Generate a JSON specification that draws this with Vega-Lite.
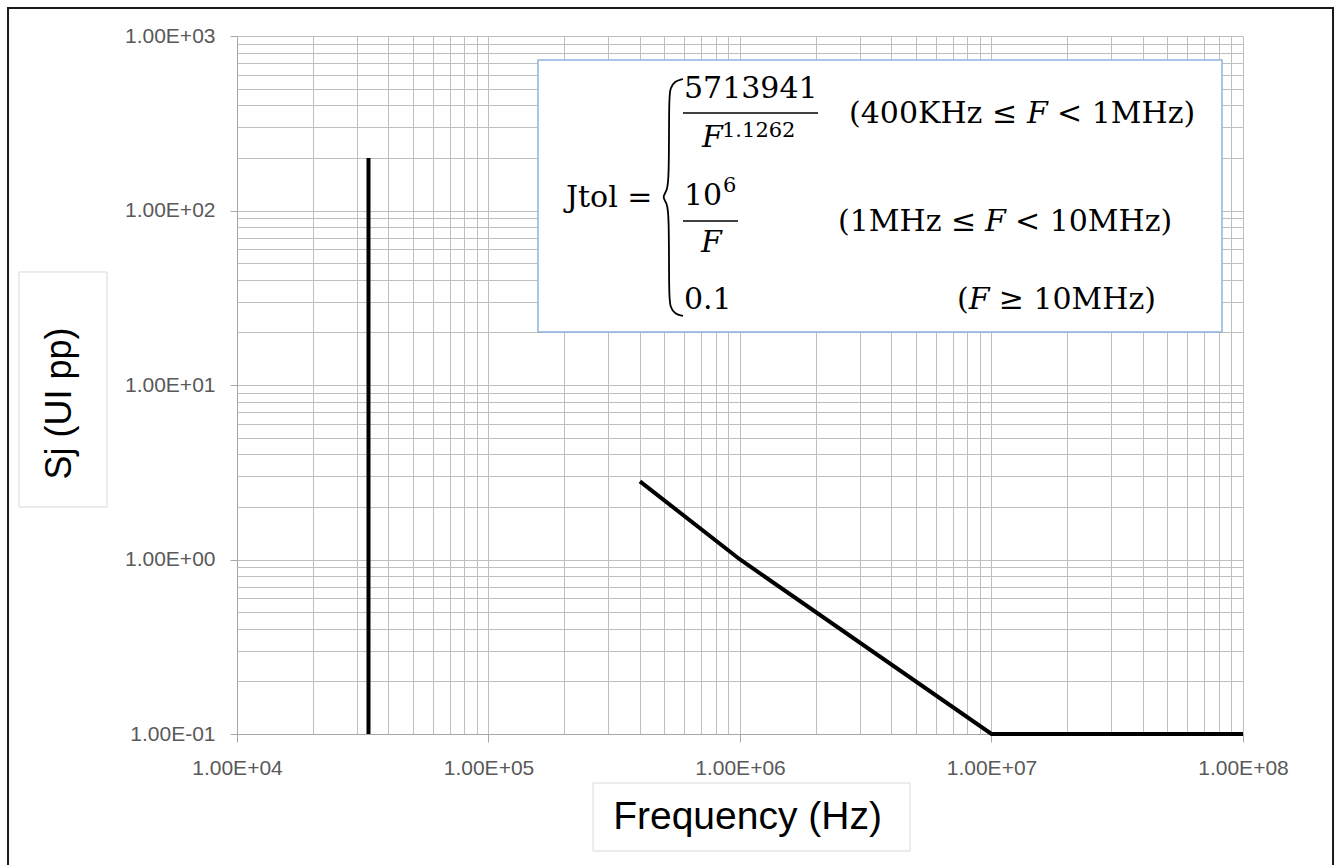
{
  "$schema": "https://vega.github.io/schema/vega-lite/v6.json",
  "width": 1006,
  "height": 698,
  "autosize": {"type": "none"},
  "padding": {"left": 237, "top": 36, "right": 92, "bottom": 131},
  "background": "white",
  "config": {"view": {"stroke": null}},
  "datasets": {
    "jtol": [
      {"x": 400000, "y": 2.805},
      {"x": 1000000, "y": 1},
      {"x": 10000000, "y": 0.1},
      {"x": 100000000, "y": 0.1}
    ],
    "vline": [{"x": 33333, "y": 0.1, "y2": 200}],
    "frame": [{"x": 1229, "x2": 228000000, "y": 1447, "y2": 0.01456}],
    "titleboxes": [
      {"x": 1359, "x2": 3042, "y": 44.43, "y2": 2.0},
      {"x": 260400, "x2": 4742000, "y": 0.05238, "y2": 0.02136}
    ],
    "eqbox": [{"x": 157300, "x2": 82500000, "y": 728.6, "y2": 20.12}],
    "bars": [
      {"x": 593400, "x2": 2043000, "y": 362.1},
      {"x": 593400, "x2": 981900, "y": 87.03}
    ],
    "brace": [
      {"i": 1, "x": 593400, "y": 567.0},
      {"i": 2, "x": 551500, "y": 552.2},
      {"i": 3, "x": 526800, "y": 503.5},
      {"i": 4, "x": 522000, "y": 429.8},
      {"i": 5, "x": 522000, "y": 149.5},
      {"i": 6, "x": 512500, "y": 129.3},
      {"i": 7, "x": 489600, "y": 119.5},
      {"i": 8, "x": 512500, "y": 110.4},
      {"i": 9, "x": 522000, "y": 95.5},
      {"i": 10, "x": 522000, "y": 32.79},
      {"i": 11, "x": 526800, "y": 27.99},
      {"i": 12, "x": 551500, "y": 25.52},
      {"i": 13, "x": 593400, "y": 24.86}
    ],
    "texts": [
      {"x": 598800, "y": 441.2, "t": "5713941"},
      {"x": 2713000, "y": 317.2, "t": "(400KHz ≤"},
      {"x": 18217000, "y": 317.2, "t": "< 1MHz)"},
      {"x": 203300, "y": 104.7, "t": "Jtol ="},
      {"x": 598800, "y": 107.5, "t": "10"},
      {"x": 2453000, "y": 76.27, "t": "(1MHz ≤"},
      {"x": 12400000, "y": 76.27, "t": "< 10MHz)"},
      {"x": 598800, "y": 27.27, "t": "0.1"},
      {"x": 7293000, "y": 27.27, "t": "("},
      {"x": 10682000, "y": 27.27, "t": "≥ 10MHz)"}
    ],
    "italics": [
      {"x": 706300, "y": 231.1, "t": "F"},
      {"x": 699900, "y": 57.83, "t": "F"},
      {"x": 13838000, "y": 317.2, "t": "F"},
      {"x": 9423000, "y": 76.27, "t": "F"},
      {"x": 8119000, "y": 27.27, "t": "F"}
    ],
    "sups": [
      {"x": 848000, "y": 263.8, "t": "1.1262"},
      {"x": 855800, "y": 127.6, "t": "6"}
    ]
  },
  "layer": [
    {
      "data": {"name": "jtol"},
      "mark": {"type": "line", "color": "black", "strokeWidth": 4},
      "encoding": {
        "x": {
          "field": "x", "type": "quantitative",
          "scale": {"type": "log", "domain": [10000, 100000000], "nice": false},
          "axis": {
            "title": "Frequency (Hz)",
            "values": [10000,20000,30000,40000,50000,60000,70000,80000,90000,100000,200000,300000,400000,500000,600000,700000,800000,900000,1000000,2000000,3000000,4000000,5000000,6000000,7000000,8000000,9000000,10000000,20000000,30000000,40000000,50000000,60000000,70000000,80000000,90000000,100000000],
            "grid": true, "gridColor": "#bfbfbf", "gridWidth": 1,
            "domainColor": "#a6a6a6", "tickColor": "#a6a6a6", "tickSize": 8,
            "tickOpacity": {"condition": {"test": "abs(log(datum.value)/LN10 - round(log(datum.value)/LN10)) < 0.000001", "value": 1}, "value": 0},
            "labelExpr": "abs(log(datum.value)/LN10 - round(log(datum.value)/LN10)) < 0.000001 ? '1.00E' + (round(log(datum.value)/LN10) < 0 ? '-' : '+') + '0' + abs(round(log(datum.value)/LN10)) : ''",
            "labelOverlap": false, "labelBound": false, "labelFlush": false,
            "labelPadding": 15, "labelFont": "Liberation Sans", "labelFontSize": 21, "labelColor": "#595959",
            "titleFont": "Liberation Sans", "titleFontSize": 39, "titleFontWeight": "normal", "titleColor": "black",
            "titleX": 510, "titleY": 94, "titleBaseline": "alphabetic", "titleAlign": "center"
          }
        },
        "y": {
          "field": "y", "type": "quantitative",
          "scale": {"type": "log", "domain": [0.1, 1000], "nice": false},
          "axis": {
            "title": "Sj (UI pp)",
            "values": [0.1,0.2,0.3,0.4,0.5,0.6,0.7,0.8,0.9,1,2,3,4,5,6,7,8,9,10,20,30,40,50,60,70,80,90,100,200,300,400,500,600,700,800,900,1000],
            "grid": true, "gridColor": "#bfbfbf", "gridWidth": 1,
            "domainColor": "#a6a6a6", "tickColor": "#a6a6a6", "tickSize": 7,
            "tickOpacity": {"condition": {"test": "abs(log(datum.value)/LN10 - round(log(datum.value)/LN10)) < 0.000001", "value": 1}, "value": 0},
            "labelExpr": "abs(log(datum.value)/LN10 - round(log(datum.value)/LN10)) < 0.000001 ? '1.00E' + (round(log(datum.value)/LN10) < 0 ? '-' : '+') + '0' + abs(round(log(datum.value)/LN10)) : ''",
            "labelOverlap": false, "labelBound": false, "labelFlush": false,
            "labelPadding": 15, "labelFont": "Liberation Sans", "labelFontSize": 21, "labelColor": "#595959",
            "titleFont": "Liberation Sans", "titleFontSize": 36, "titleFontWeight": "normal", "titleColor": "black",
            "titleX": -167, "titleY": 367, "titleBaseline": "alphabetic", "titleAlign": "center", "titleAngle": -90
          }
        }
      }
    },
    {
      "data": {"name": "vline"},
      "mark": {"type": "rule", "color": "black", "strokeWidth": 4},
      "encoding": {
        "x": {"field": "x", "type": "quantitative", "scale": {"type": "log", "domain": [10000, 100000000], "nice": false}},
        "y": {"field": "y", "type": "quantitative", "scale": {"type": "log", "domain": [0.1, 1000], "nice": false}},
        "y2": {"field": "y2"}
      }
    },
    {
      "data": {"name": "frame"},
      "mark": {"type": "rect", "fillOpacity": 0, "stroke": "#1a1a1a", "strokeWidth": 2},
      "encoding": {
        "x": {"field": "x", "type": "quantitative", "scale": {"type": "log", "domain": [10000, 100000000], "nice": false}},
        "x2": {"field": "x2"},
        "y": {"field": "y", "type": "quantitative", "scale": {"type": "log", "domain": [0.1, 1000], "nice": false}},
        "y2": {"field": "y2"}
      }
    },
    {
      "data": {"name": "titleboxes"},
      "mark": {"type": "rect", "fillOpacity": 0, "stroke": "#d9d9d9", "strokeWidth": 1},
      "encoding": {
        "x": {"field": "x", "type": "quantitative", "scale": {"type": "log", "domain": [10000, 100000000], "nice": false}},
        "x2": {"field": "x2"},
        "y": {"field": "y", "type": "quantitative", "scale": {"type": "log", "domain": [0.1, 1000], "nice": false}},
        "y2": {"field": "y2"}
      }
    },
    {
      "data": {"name": "eqbox"},
      "mark": {"type": "rect", "fill": "white", "stroke": "#8eb3df", "strokeWidth": 1.5},
      "encoding": {
        "x": {"field": "x", "type": "quantitative", "scale": {"type": "log", "domain": [10000, 100000000], "nice": false}},
        "x2": {"field": "x2"},
        "y": {"field": "y", "type": "quantitative", "scale": {"type": "log", "domain": [0.1, 1000], "nice": false}},
        "y2": {"field": "y2"}
      }
    },
    {
      "data": {"name": "bars"},
      "mark": {"type": "rule", "color": "black", "strokeWidth": 1.5},
      "encoding": {
        "x": {"field": "x", "type": "quantitative", "scale": {"type": "log", "domain": [10000, 100000000], "nice": false}},
        "x2": {"field": "x2"},
        "y": {"field": "y", "type": "quantitative", "scale": {"type": "log", "domain": [0.1, 1000], "nice": false}}
      }
    },
    {
      "data": {"name": "brace"},
      "mark": {"type": "line", "color": "black", "strokeWidth": 1.8, "interpolate": "basis"},
      "encoding": {
        "x": {"field": "x", "type": "quantitative", "scale": {"type": "log", "domain": [10000, 100000000], "nice": false}},
        "y": {"field": "y", "type": "quantitative", "scale": {"type": "log", "domain": [0.1, 1000], "nice": false}},
        "order": {"field": "i", "type": "quantitative"}
      }
    },
    {
      "data": {"name": "texts"},
      "mark": {"type": "text", "align": "left", "baseline": "alphabetic", "font": "DejaVu Serif", "fontSize": 30, "color": "black"},
      "encoding": {
        "x": {"field": "x", "type": "quantitative", "scale": {"type": "log", "domain": [10000, 100000000], "nice": false}},
        "y": {"field": "y", "type": "quantitative", "scale": {"type": "log", "domain": [0.1, 1000], "nice": false}},
        "text": {"field": "t"}
      }
    },
    {
      "data": {"name": "italics"},
      "mark": {"type": "text", "align": "left", "baseline": "alphabetic", "font": "DejaVu Serif", "fontStyle": "italic", "fontSize": 30, "color": "black"},
      "encoding": {
        "x": {"field": "x", "type": "quantitative", "scale": {"type": "log", "domain": [10000, 100000000], "nice": false}},
        "y": {"field": "y", "type": "quantitative", "scale": {"type": "log", "domain": [0.1, 1000], "nice": false}},
        "text": {"field": "t"}
      }
    },
    {
      "data": {"name": "sups"},
      "mark": {"type": "text", "align": "left", "baseline": "alphabetic", "font": "DejaVu Serif", "fontSize": 21, "color": "black"},
      "encoding": {
        "x": {"field": "x", "type": "quantitative", "scale": {"type": "log", "domain": [10000, 100000000], "nice": false}},
        "y": {"field": "y", "type": "quantitative", "scale": {"type": "log", "domain": [0.1, 1000], "nice": false}},
        "text": {"field": "t"}
      }
    }
  ]
}
